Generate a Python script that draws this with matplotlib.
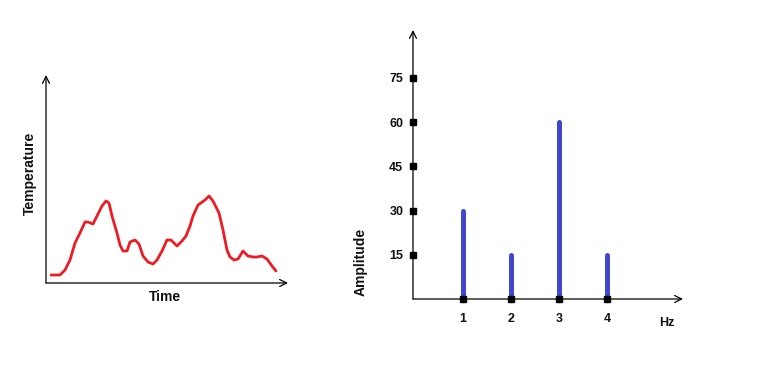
import matplotlib
matplotlib.use("Agg")
import matplotlib.pyplot as plt

# left sketch: temperature over time
time = [5, 14, 19, 24, 29, 34, 39, 42, 47, 51, 56, 60, 63, 66, 71, 74, 77, 81,
        84, 89, 93, 97, 102, 107, 111, 116, 121, 125, 128, 131, 136, 140, 144,
        147, 152, 159, 163, 167, 173, 177, 181, 184, 188, 192, 197, 202, 207,
        211, 216, 221, 226, 230]
temperature = [8, 8, 13, 23, 40, 50, 61, 61, 59, 67, 77, 82, 80, 67, 50, 38, 32,
               32, 41, 43, 39, 27, 21, 19, 23, 32, 43, 43, 40, 37, 42, 47, 57,
               67, 78, 83, 87, 82, 70, 53, 33, 26, 23, 24, 32, 27, 26, 26, 27,
               24, 17, 12]

# right sketch: spectrum
freqs = [1, 2, 3, 4]
amps = [30, 15, 60, 15]
yticks = [15, 30, 45, 60, 75]

W, H = 760, 365
fig = plt.figure(figsize=(W / 100, H / 100), dpi=100)
plt.rcParams['font.family'] = ['Liberation Sans', 'DejaVu Sans']
ink = '#111111'

def px_axes(x0, y0, x1, y1):
    # pixel box (left, top, right, bottom) -> axes
    return fig.add_axes([x0 / W, 1 - y1 / H, (x1 - x0) / W, (y1 - y0) / H])

def arrows(ax):
    for spine in ax.spines.values():
        spine.set_visible(False)
    style = dict(arrowstyle='->,head_length=0.5,head_width=0.25', lw=0.9,
                 color='black', shrinkA=0, shrinkB=0)
    ax.annotate('', xy=(1, 0), xytext=(0, 0), xycoords='axes fraction',
                arrowprops=style, annotation_clip=False)
    ax.annotate('', xy=(0, 1), xytext=(0, 0), xycoords='axes fraction',
                arrowprops=style, annotation_clip=False)

# left chart
ax1 = px_axes(46, 75, 288, 283)
ax1.plot(time, temperature, color='#ED1C24', lw=2, solid_capstyle='round',
         solid_joinstyle='round')
ax1.set_xlim(0, 242)
ax1.set_ylim(0, 208)
ax1.set_xticks([])
ax1.set_yticks([])
arrows(ax1)
fig.text(165 / W, 1 - 297 / H, 'Time', ha='center', va='center',
         fontsize=10, fontweight='bold', color=ink)
fig.text(30 / W, 1 - 173 / H, 'Temperature', ha='center', va='center',
         rotation=90, fontsize=10, fontweight='bold', color=ink)

# right chart
ax2 = px_axes(413, 30, 683, 299)
ax2.vlines(freqs, 0, amps, color='#3F48CC', lw=3.6, capstyle='round')
ax2.set_xlim(1 - 50 / 48, 1 - 50 / 48 + 270 / 48)
ax2.set_ylim(0, 269 / 2.947)
ax2.plot([ax2.get_xlim()[0]] * len(yticks), yticks, 's', ms=3.8,
         color='black', clip_on=False)
ax2.plot(freqs, [0] * len(freqs), 's', ms=3.8, color='black', clip_on=False)
ax2.set_yticks(yticks)
ax2.set_xticks(freqs)
ax2.tick_params(length=0, labelsize=9, colors=ink)
ax2.tick_params(axis='y', pad=7)
ax2.tick_params(axis='x', pad=10)
for lab in ax2.get_xticklabels() + ax2.get_yticklabels():
    lab.set_fontweight('bold')
arrows(ax2)
fig.text(667 / W, 1 - 323 / H, 'Hz', ha='center', va='center',
         fontsize=9, fontweight='bold', color=ink)
fig.text(361 / W, 1 - 262 / H, 'Amplitude', ha='center', va='center',
         rotation=90, fontsize=10, fontweight='bold', color=ink)

fig.savefig('out.png', dpi=100, facecolor='white')
